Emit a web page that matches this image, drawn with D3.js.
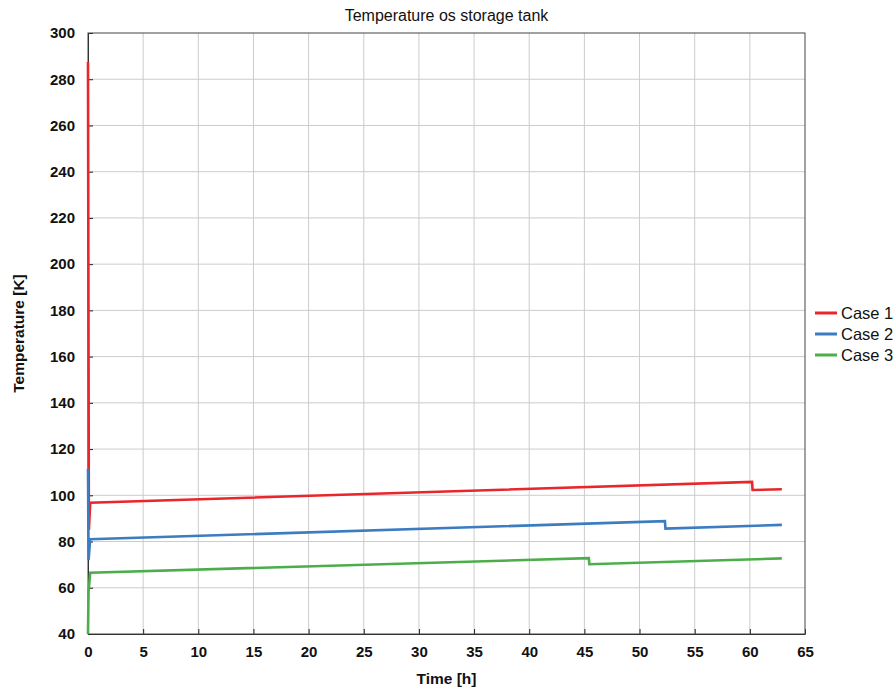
<!DOCTYPE html>
<html>
<head>
<meta charset="utf-8">
<script src="https://cdn.jsdelivr.net/npm/d3@7"></script>
<style>
  body { margin: 0; background: #fff; }
  text { font-family: "Liberation Sans", Arial, sans-serif; }
</style>
</head>
<body>
<svg width="896" height="691"></svg>
<script>
// values
var seriesNames = ["Case 1", "Case 2", "Case 3"];
var seriesColors = ["#e8262b", "#3b7dc0", "#4cae4a"];

var timeCase1 = [0, 0.08, 0.2, 60.2, 60.25, 62.9];
var tempCase1 = [287.5, 85, 96.8, 105.8, 102.3, 102.6];

var timeCase2 = [0, 0.05, 0.2, 52.3, 52.35, 62.9];
var tempCase2 = [111.5, 72, 81, 88.8, 85.6, 87.2];

var timeCase3 = [0, 0.05, 0.2, 45.4, 45.45, 62.9];
var tempCase3 = [40, 58, 66.5, 72.8, 70.2, 72.7];

var xTicks = d3.range(0, 66, 5);
var yTicks = d3.range(40, 301, 20);

var svg = d3.select("svg");
var margin = {left: 88, right: 91, top: 33, bottom: 57};
var width = +svg.attr("width") - margin.left - margin.right,
    height = +svg.attr("height") - margin.top - margin.bottom;

var x = d3.scaleLinear().domain([0, 65]).range([0, width]);
var y = d3.scaleLinear().domain([40, 300]).range([height, 0]);

var g = svg.append("g").attr("transform", "translate(" + margin.left + "," + margin.top + ")");

// grid
g.append("g").selectAll("line").data(xTicks.slice(1, -1)).enter().append("line")
  .attr("x1", function(d) { return x(d); }).attr("x2", function(d) { return x(d); })
  .attr("y1", 0).attr("y2", height)
  .attr("stroke", "#cccccc").attr("stroke-width", 1);
g.append("g").selectAll("line").data(yTicks.slice(1, -1)).enter().append("line")
  .attr("y1", function(d) { return y(d); }).attr("y2", function(d) { return y(d); })
  .attr("x1", 0).attr("x2", width)
  .attr("stroke", "#cccccc").attr("stroke-width", 1);

// axes, ticks pointing inward
var xAxis = g.append("g").attr("transform", "translate(0," + height + ")")
  .call(d3.axisBottom(x).tickValues(xTicks).tickSizeInner(-5).tickSizeOuter(0).tickPadding(12));
var yAxis = g.append("g")
  .call(d3.axisLeft(y).tickValues(yTicks).tickSizeInner(-5).tickSizeOuter(0).tickPadding(13));
[xAxis, yAxis].forEach(function(a) {
  a.selectAll("text").attr("font-size", 15).attr("font-weight", "bold").attr("fill", "#111")
    .style("font-family", "'Liberation Sans', Arial, sans-serif");
  a.select(".domain").attr("stroke", "#222");
  a.selectAll(".tick line").attr("stroke", "#222");
});

// frame top/right
g.append("rect").attr("width", width).attr("height", height)
  .attr("fill", "none").attr("stroke", "#444").attr("stroke-width", 1);

// series
var line = d3.line().x(function(d) { return x(d[0]); }).y(function(d) { return y(d[1]); });
var series = [
  d3.zip(timeCase1, tempCase1),
  d3.zip(timeCase2, tempCase2),
  d3.zip(timeCase3, tempCase3)
];
g.append("g").selectAll("path").data(series).enter().append("path")
  .attr("d", line)
  .attr("fill", "none")
  .attr("stroke", function(d, i) { return seriesColors[i]; })
  .attr("stroke-width", 2.6)
  .attr("stroke-linejoin", "miter");

// title and axis labels
svg.append("text").attr("x", margin.left + width / 2).attr("y", 21)
  .attr("text-anchor", "middle").attr("font-size", 16).attr("fill", "#111")
  .text("Temperature os storage tank");
svg.append("text").attr("x", margin.left + width / 2).attr("y", 684)
  .attr("text-anchor", "middle").attr("font-size", 15.5).attr("font-weight", "bold").attr("fill", "#111")
  .text("Time [h]");
svg.append("text").attr("transform", "translate(24," + (margin.top + height / 2) + ") rotate(-90)")
  .attr("text-anchor", "middle").attr("font-size", 15.5).attr("font-weight", "bold").attr("fill", "#111")
  .text("Temperature [K]");

// legend
var legend = svg.append("g").attr("transform", "translate(815,313)");
var item = legend.selectAll("g").data(seriesNames).enter().append("g")
  .attr("transform", function(d, i) { return "translate(0," + (i * 21) + ")"; });
item.append("line").attr("x1", 0).attr("x2", 22).attr("y1", 0).attr("y2", 0)
  .attr("stroke", function(d, i) { return seriesColors[i]; }).attr("stroke-width", 3);
item.append("text").attr("x", 26).attr("y", 6).attr("font-size", 16.5).attr("fill", "#111")
  .text(function(d) { return d; });
</script>
</body>
</html>
